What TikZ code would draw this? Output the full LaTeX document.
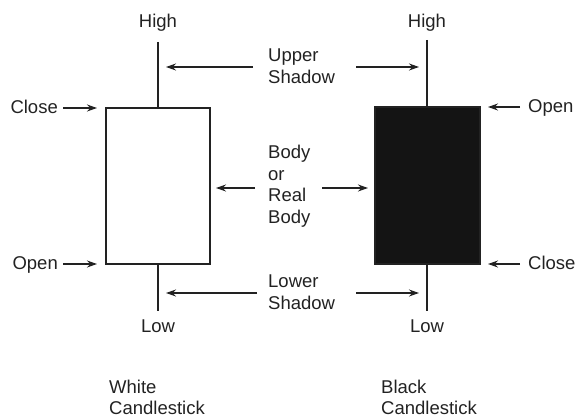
\documentclass[tikz,border=0pt]{standalone}
\usepackage{fontspec}
\setmainfont{Liberation Sans}
\usetikzlibrary{arrows.meta}
\definecolor{ink}{HTML}{222222}
\begin{document}
\begin{tikzpicture}[x=1pt,y=-1pt,
  lbl/.style={inner sep=0pt,text=ink,font=\fontsize{18.5}{21.5}\selectfont},
  wick/.style={draw=ink,line width=2pt},
  bodybox/.style={draw=ink,line width=2pt},
  ptr/.style={draw=ink,line width=1.2pt,-{Stealth[length=10pt,width=7pt]}}]
\useasboundingbox (0,0) rectangle (576,419);
% white candlestick
\coordinate (wH) at (158,42);
\coordinate (wL) at (158,311);
\coordinate (wTL) at (106,108);
\coordinate (wBR) at (210,264);
\draw[wick] (wH) -- (158,108);
\draw[wick] (158,264) -- (wL);
\draw[bodybox,fill=white] (wTL) rectangle (wBR);
% black candlestick
\coordinate (bH) at (427,40);
\coordinate (bL) at (427,311);
\coordinate (bTL) at (375,107);
\coordinate (bBR) at (480,264);
\draw[wick] (bH) -- (427,107);
\draw[wick] (427,264) -- (bL);
\draw[bodybox,fill=black!92] (bTL) rectangle (bBR);
% labels
\node[lbl,anchor=base] (hw) at (158,28) {High};
\node[lbl,anchor=base] (hb) at (427,28) {High};
\node[lbl,anchor=base] (lw) at (158,333) {Low};
\node[lbl,anchor=base] (lb) at (427,333) {Low};
\node[lbl,anchor=base east] (cl) at (58,114) {Close};
\node[lbl,anchor=base east] (ol) at (58,270) {Open};
\node[lbl,anchor=base west] (orr) at (528,113) {Open};
\node[lbl,anchor=base west] (cr) at (528,270) {Close};
\node[lbl,anchor=base west] (us) at (268,62) {\begin{tabular}[t]{@{}l@{}}Upper\\Shadow\end{tabular}};
\node[lbl,anchor=base west] (rb) at (268,159) {\begin{tabular}[t]{@{}l@{}}Body\\or\\Real\\Body\end{tabular}};
\node[lbl,anchor=base west] (ls) at (268,288) {\begin{tabular}[t]{@{}l@{}}Lower\\Shadow\end{tabular}};
\node[lbl,anchor=base west,font=\fontsize{18.5}{20.5}\selectfont] (wc) at (109,394) {\begin{tabular}[t]{@{}l@{}}White\\Candlestick\end{tabular}};
\node[lbl,anchor=base west,font=\fontsize{18.5}{20.5}\selectfont] (bc) at (381,394) {\begin{tabular}[t]{@{}l@{}}Black\\Candlestick\end{tabular}};
% arrow anchors
\coordinate (a1s) at (63,108);  \coordinate (a1e) at (97,108);
\coordinate (a2s) at (63,264);  \coordinate (a2e) at (97,264);
\coordinate (a3s) at (253,67);  \coordinate (a3e) at (166,67);
\coordinate (a4s) at (356,67);  \coordinate (a4e) at (419,67);
\coordinate (a5s) at (255,188); \coordinate (a5e) at (216,188);
\coordinate (a6s) at (322,188); \coordinate (a6e) at (368,188);
\coordinate (a7s) at (257,293); \coordinate (a7e) at (166,293);
\coordinate (a8s) at (356,293); \coordinate (a8e) at (419,293);
\coordinate (a9s) at (520,107); \coordinate (a9e) at (488,107);
\coordinate (a10s) at (520,264); \coordinate (a10e) at (488,264);
\foreach \i in {1,...,10} {\draw[ptr] (a\i s) -- (a\i e);}
\end{tikzpicture}
\end{document}
